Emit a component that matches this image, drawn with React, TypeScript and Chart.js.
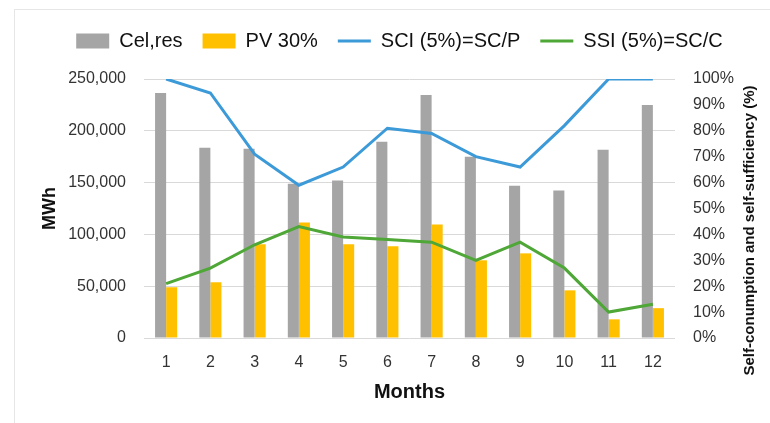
import React, { useEffect, useRef } from "react";
import { Chart, registerables } from "chart.js";

Chart.register(...registerables);

const months = ["1", "2", "3", "4", "5", "6", "7", "8", "9", "10", "11", "12"];
const celRes = [236500, 183600, 182700, 149000, 152000, 189400, 234600, 175000, 147000, 142300, 181700, 225000];
const pv30 = [49000, 53800, 90400, 111500, 90400, 88500, 109600, 75000, 81700, 46000, 18000, 28800];
const sci = [100, 94.6, 71, 59, 66, 81, 79, 70, 66, 82, 100, 100];
const ssi = [21, 27, 36, 43, 39, 38, 37, 30, 37, 27, 10, 13];

const seriesNames = ["Cel,res", "PV 30%", "SCI (5%)=SC/P", "SSI (5%)=SC/C"];
const xTitle = "Months";
const yTitle = "MWh";
const y1Title = "Self-conumption and self-sufficiency (%)";

const FONT = '"Liberation Sans", Arial, sans-serif';

const rightTitlePlugin = {
  id: "rightTitle",
  afterDraw(chart: any) {
    const { ctx, chartArea } = chart;
    ctx.save();
    ctx.translate(750, (chartArea.top + chartArea.bottom) / 2 + 22);
    ctx.rotate(-Math.PI / 2);
    ctx.font = `bold 15px ${FONT}`;
    ctx.fillStyle = "#111";
    ctx.textAlign = "center";
    ctx.textBaseline = "middle";
    ctx.fillText(y1Title, 0, 0);
    ctx.restore();
  },
};

const legendSpacePlugin = {
  id: "legendSpace",
  beforeInit(chart: any) {
    const legend = chart.legend;
    if (!legend) return;
    const origFit = legend.fit;
    legend.fit = function () {
      origFit.call(this);
      this.height += 18;
    };
  },
};

export default function App() {
  const ref = useRef<HTMLCanvasElement>(null);
  useEffect(() => {
    if (!ref.current) return;
    const chart = new Chart(ref.current, {
      type: "bar",
      data: {
        labels: months,
        datasets: [
          {
            type: "bar",
            label: seriesNames[0],
            data: celRes,
            backgroundColor: "#A6A5A5",
            yAxisID: "y",
            order: 1,
            categoryPercentage: 0.5,
            barPercentage: 1,
          },
          {
            type: "bar",
            label: seriesNames[1],
            data: pv30,
            backgroundColor: "#FFC000",
            yAxisID: "y",
            order: 1,
            categoryPercentage: 0.5,
            barPercentage: 1,
          },
          {
            type: "line",
            label: seriesNames[2],
            data: sci,
            borderColor: "#3C9AD8",
            backgroundColor: "#3C9AD8",
            borderWidth: 3,
            pointRadius: 0,
            tension: 0,
            yAxisID: "y1",
            order: 0,
          },
          {
            type: "line",
            label: seriesNames[3],
            data: ssi,
            borderColor: "#4EA736",
            backgroundColor: "#4EA736",
            borderWidth: 3,
            pointRadius: 0,
            tension: 0,
            yAxisID: "y1",
            order: 0,
          },
        ] as any,
      },
      options: {
        responsive: false,
        animation: false,
        layout: { padding: { top: 11, left: 29, right: 0, bottom: 0 } },
        plugins: {
          tooltip: { enabled: false },
          legend: {
            position: "top",
            labels: {
              usePointStyle: true,
              pointStyleWidth: 33,
              boxHeight: 15,
              padding: 20,
              color: "#111",
              font: { family: FONT, size: 20 },
              sort: (a: any, b: any) => a.datasetIndex - b.datasetIndex,
              generateLabels: (chart: any) => {
                const items = Chart.defaults.plugins.legend.labels.generateLabels(chart);
                return items.map((it: any) => {
                  const ds = chart.data.datasets[it.datasetIndex];
                  if (ds.type === "line") {
                    return { ...it, pointStyle: "line", lineWidth: 3, strokeStyle: ds.borderColor, fillStyle: ds.borderColor };
                  }
                  return { ...it, pointStyle: "rect", lineWidth: 0, fillStyle: ds.backgroundColor, strokeStyle: ds.backgroundColor };
                });
              },
            },
          },
        },
        scales: {
          x: {
            grid: { display: false },
            border: { display: false },
            ticks: { color: "#333", font: { family: FONT, size: 16 }, padding: 7 },
            title: {
              display: true,
              text: xTitle,
              color: "#111",
              font: { family: FONT, size: 20, weight: "bold" },
              padding: { top: 0, bottom: 19 },
            },
            afterFit: (s: any) => {
              s.height = 85;
            },
          },
          y: {
            position: "left",
            min: 0,
            max: 250000,
            grid: { color: "#D9D9D9", drawTicks: false, lineWidth: 1 },
            border: { display: false },
            ticks: {
              stepSize: 50000,
              padding: 18,
              color: "#333",
              font: { family: FONT, size: 16 },
              callback: (v: any) => Number(v).toLocaleString("en-US"),
            },
            title: {
              display: true,
              text: yTitle,
              color: "#111",
              font: { family: FONT, size: 18, weight: "bold" },
              padding: { top: 10, bottom: 0 },
            },
            afterFit: (s: any) => {
              s.width = 115;
            },
          },
          y1: {
            position: "right",
            min: 0,
            max: 100,
            grid: { display: false, drawTicks: false },
            border: { display: false },
            ticks: {
              stepSize: 10,
              padding: 18,
              color: "#333",
              font: { family: FONT, size: 16 },
              callback: (v: any) => v + "%",
            },
            afterFit: (s: any) => {
              s.width = 95;
            },
          },
        },
      } as any,
      plugins: [legendSpacePlugin, rightTitlePlugin],
    });
    return () => chart.destroy();
  }, []);

  return (
    <div style={{ position: "fixed", left: 0, top: 0, width: 770, height: 423, background: "#fff", overflow: "hidden" }}>
      <div
        style={{
          position: "absolute",
          left: 14,
          top: 9,
          width: 756,
          height: 414,
          borderLeft: "1px solid #E6E6E6",
          borderTop: "1px solid #E6E6E6",
          boxSizing: "border-box",
        }}
      />
      <canvas ref={ref} width={770} height={423} style={{ position: "absolute", left: 0, top: 0, width: 770, height: 423 }} />
    </div>
  );
}
